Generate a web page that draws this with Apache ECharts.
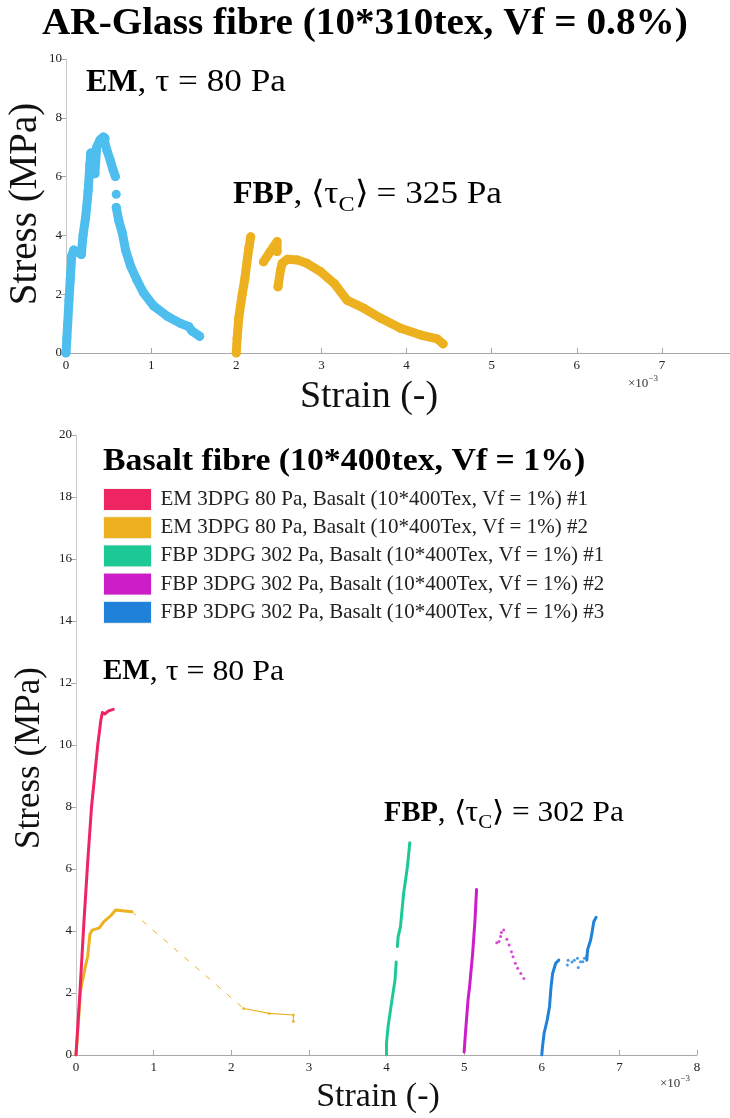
<!DOCTYPE html>
<html><head><meta charset="utf-8">
<script src="https://cdn.jsdelivr.net/npm/echarts@6/dist/echarts.min.js"></script>
<style>html,body{margin:0;padding:0;background:#fff}#c{width:730px;height:1118px}</style>
</head><body><div id="c"></div>
<script>
// ---------- DATA (strain in 1e-3, stress in MPa) ----------
var xTicksTop = [0,1,2,3,4,5,6,7];
var yTicksTop = [0,2,4,6,8,10];
var xTicksBottom = [0,1,2,3,4,5,6,7,8];
var yTicksBottom = [0,2,4,6,8,10,12,14,16,18,20];

// AR-Glass EM (blue)
var glassEM_a = [[0,0],[0.01,0.5],[0.02,1.0],[0.035,1.8],[0.05,2.5],[0.067,3.3],[0.09,3.5],[0.13,3.45],[0.18,3.35],[0.2,4.0],[0.23,4.6],[0.26,5.5],[0.28,6.4],[0.29,6.8],[0.32,6.5],[0.34,6.1],[0.36,7.0],[0.4,7.25],[0.44,7.35],[0.46,7.3],[0.48,6.9],[0.52,6.55],[0.55,6.25],[0.58,6.0]];
var glassEM_b = [[0.59,5.4]];
var glassEM_c = [[0.59,4.95],[0.62,4.5],[0.66,4.1],[0.7,3.5],[0.76,2.95],[0.83,2.5],[0.91,2.05],[1.03,1.6],[1.19,1.25],[1.35,1.0],[1.44,0.9],[1.48,0.75],[1.57,0.57]];
// AR-Glass FBP (orange)
var glassFBP_a = [[2.0,0],[2.01,0.5],[2.03,1.2],[2.07,2.0],[2.1,2.5],[2.13,3.2],[2.15,3.6],[2.17,3.95]];
var glassFBP_b = [[2.32,3.1],[2.4,3.45],[2.48,3.79],[2.48,3.45]];
var glassFBP_c = [[2.49,2.25],[2.52,2.82],[2.54,3.05],[2.6,3.19],[2.72,3.16],[2.83,3.05],[2.99,2.77],[3.15,2.37],[3.3,1.8],[3.5,1.52],[3.7,1.18],[3.93,0.84],[4.17,0.61],[4.36,0.48],[4.43,0.31]];

// Basalt
var names = ['EM 3DPG 80 Pa, Basalt (10*400Tex, Vf = 1%) #1','EM 3DPG 80 Pa, Basalt (10*400Tex, Vf = 1%) #2','FBP 3DPG 302 Pa, Basalt (10*400Tex, Vf = 1%) #1','FBP 3DPG 302 Pa, Basalt (10*400Tex, Vf = 1%) #2','FBP 3DPG 302 Pa, Basalt (10*400Tex, Vf = 1%) #3'];
var emB1 = [[0,0],[0.05,2.0],[0.1,4.2],[0.15,6.2],[0.2,8.0],[0.24,9.0],[0.28,10.0],[0.32,10.8],[0.34,11.05],[0.37,11.0],[0.42,11.1],[0.48,11.15]];
var emB2 = [[0,0],[0.06,2.1],[0.12,2.85],[0.15,3.17],[0.18,3.9],[0.21,4.03],[0.3,4.1],[0.36,4.3],[0.45,4.5],[0.51,4.68],[0.6,4.65],[0.72,4.62]];
var emB2tail = [[0.72,4.62],[2.16,1.5]];
var emB2end = [[2.16,1.5],[2.49,1.34],[2.8,1.29],[2.8,1.08]];
var fbpB1 = [[4.0,0],[4.0,0.38],[4.02,0.91],[4.07,1.77],[4.11,2.42],[4.125,3.0],null,[4.14,3.5],[4.15,3.82],[4.18,4.14],[4.22,5.2],[4.27,6.08],[4.3,6.85]];
var fbpB2 = [[5.0,0.1],[5.02,0.8],[5.05,1.77],[5.07,2.2],[5.11,3.28],[5.14,4.35],[5.16,5.34]];
var fbpB2pts = [[5.42,3.62],[5.45,3.66],[5.47,3.82],[5.48,3.95],[5.51,4.03],[5.55,3.73],[5.58,3.55],[5.61,3.33],[5.63,3.17],[5.66,2.96],[5.69,2.8],[5.73,2.63],[5.77,2.47]];
var fbpB3 = [[6.0,0],[6.01,0.27],[6.03,0.7],[6.07,1.13],[6.1,1.56],[6.12,2.2],[6.14,2.63],[6.18,2.96],[6.22,3.06]];
var fbpB3pts = [[6.33,2.9],[6.34,3.06],[6.39,3.0],[6.42,3.06],[6.46,3.12],[6.47,2.82],[6.5,3.01],[6.53,3.01],[6.55,3.12],[6.58,3.19]];
var fbpB3b = [[6.58,3.06],[6.59,3.39],[6.63,3.71],[6.65,3.98],[6.67,4.3],[6.7,4.44]];

var cBlueTop = '#4DBEEE', cOrange = '#EDB120';
var cPink = '#EF2463', cTeal = '#1DC897', cMag = '#CC1DC8', cBlue = '#1F82D8';

var serif = 'Liberation Serif';
var mctx = document.createElement('canvas').getContext('2d');
function measure(t, size, weight) {
  mctx.font = (weight || 'normal') + ' ' + size + 'px "' + serif + '"';
  return mctx.measureText(t).width;
}
// items: {t, size, w, sx, dy}
function textLine(x, y, items, color) {
  var out = [], cx = x;
  items.forEach(function (it) {
    var sx = it.sx || 1;
    out.push({type:'text', x:cx, y:y + (it.dy || 0), scaleX:sx, silent:true, z:100,
      style:{text:it.t, fontFamily:serif, fontSize:it.size, fontWeight:it.w || 'normal', fill:color || '#000',
        align:'left', verticalAlign:'middle'}});
    cx += measure(it.t, it.size, it.w) * sx;
  });
  return out;
}
function annEM(x, y, s) {
  return textLine(x, y, [{t:'EM', size:s, w:'bold'}, {t:', τ = 80 Pa', size:s, sx:1.1}]);
}
function annFBP(x, y, s, val) {
  return textLine(x, y, [{t:'FBP', size:s, w:'bold'}, {t:', ⟨τ', size:s, sx:1.1},
    {t:'C', size:Math.round(s*0.68), sx:1.1, dy:s*0.32}, {t:'⟩ = ' + val + ' Pa', size:s, sx:1.1}]);
}
function expo(x, y) {
  return textLine(x, y, [{t:'×10', size:13}, {t:'−3', size:9, dy:-5}], '#333');
}

function axisX(idx, max) {
  return {gridIndex: idx, type:'value', min:0, max:max, interval:1,
    axisLine:{show:true, lineStyle:{color:'#a8a8a8', width:1}},
    axisTick:{show:true, inside:true, length:5, lineStyle:{color:'#a8a8a8'}},
    axisLabel:{color:'#222', fontFamily:serif, fontSize:13, margin:6,
      formatter:function(v){ var t = idx === 0 ? xTicksTop : xTicksBottom; return t.indexOf(v) >= 0 ? String(v) : ''; }},
    splitLine:{show:false}};
}
function axisY(idx, max, interval) {
  return {gridIndex: idx, type:'value', min:0, max:max, interval:interval,
    axisLine:{show:true, lineStyle:{color:'#c8c8c8', width:1}},
    axisTick:{show:true, inside:false, length:5, lineStyle:{color:'#a8a8a8'}},
    axisLabel:{color:'#222', fontFamily:serif, fontSize:13, margin:4,
      formatter:function(v){ var t = idx === 0 ? yTicksTop : yTicksBottom; return t.indexOf(v) >= 0 ? String(v) : ''; }},
    splitLine:{show:false}};
}
function thick(name, data, color) {
  return {type:'line', name:name, xAxisIndex:0, yAxisIndex:0, data:data, color:color,
    showSymbol:true, symbol:'circle', symbolSize:9, lineStyle:{width:9, color:color, cap:'round', join:'round'},
    itemStyle:{color:color}, animation:false, silent:true};
}
function thin(name, data, color, w, dashed) {
  return {type:'line', name:name, xAxisIndex:1, yAxisIndex:1, data:data, color:color, connectNulls:false,
    showSymbol:false, lineStyle:{width:w, color:color, type: dashed ? [5,9] : 'solid', cap:'round', join:'round'},
    itemStyle:{color:color}, animation:false, silent:true};
}
function dots(name, data, color) {
  return {type:'scatter', name:name, xAxisIndex:1, yAxisIndex:1, data:data, symbolSize:3, color:color,
    itemStyle:{color:color}, animation:false, silent:true};
}

var graphics = [];
graphics = graphics.concat(textLine(42, 24, [{t:'AR-Glass fibre (10*310tex, Vf = 0.8%)', size:37, w:'bold', sx:1.06}]));
graphics = graphics.concat(annEM(86, 83, 32));
graphics = graphics.concat(annFBP(233, 195, 32, '325'));
graphics.push({type:'text', x:369, y:397, silent:true, style:{text:'Strain (-)', fontFamily:serif, fontSize:38, fill:'#111', align:'center', verticalAlign:'middle'}});
graphics.push({type:'text', x:26, y:204, rotation:Math.PI/2, silent:true, style:{text:'Stress (MPa)', fontFamily:serif, fontSize:39, fill:'#111', align:'center', verticalAlign:'middle'}});
graphics = graphics.concat(expo(628, 384));
graphics = graphics.concat(textLine(103, 462, [{t:'Basalt fibre (10*400tex, Vf = 1%)', size:31, w:'bold', sx:1.09}]));
graphics = graphics.concat(annEM(103, 672, 29));
graphics = graphics.concat(annFBP(384, 814, 28.5, '302'));
graphics.push({type:'text', x:378, y:1097, silent:true, style:{text:'Strain (-)', fontFamily:serif, fontSize:34, fill:'#111', align:'center', verticalAlign:'middle'}});
graphics.push({type:'text', x:30, y:758, rotation:Math.PI/2, silent:true, style:{text:'Stress (MPa)', fontFamily:serif, fontSize:35, fill:'#111', align:'center', verticalAlign:'middle'}});
graphics = graphics.concat(expo(660, 1084));

var chart = echarts.init(document.getElementById('c'), null, {renderer:'canvas'});
chart.setOption({
  backgroundColor:'#fff',
  animation:false,
  grid:[{left:66, top:59, width:681, height:294, containLabel:false, outerBoundsMode:'none'},
        {left:76, top:435, right:33, bottom:63, containLabel:false, outerBoundsMode:'none'}],
  xAxis:[axisX(0, 8), axisX(1, 8)],
  yAxis:[axisY(0, 10, 2), axisY(1, 20, 2)],
  legend:{data:names, orient:'vertical', left:103, top:488, itemWidth:48, itemHeight:22, itemGap:5.2, icon:'rect',
    padding:0, selectedMode:false,
    textStyle:{fontFamily:serif, fontSize:21, color:'#222', padding:[0,0,0,4]},
    itemStyle:{borderColor:'#f4f4f4', borderWidth:1}},
  series:[
    thick('glassEM', glassEM_a, cBlueTop), thick('glassEM', glassEM_b, cBlueTop), thick('glassEM', glassEM_c, cBlueTop),
    thick('glassFBP', glassFBP_a, cOrange), thick('glassFBP', glassFBP_b, cOrange), thick('glassFBP', glassFBP_c, cOrange),
    thin(names[1], emB2, cOrange, 3), thin(names[1], emB2tail, cOrange, 1, true), thin(names[1], emB2end, cOrange, 1.2),
    dots(names[1], emB2end, cOrange),
    thin(names[0], emB1, cPink, 3),
    thin(names[2], fbpB1, cTeal, 3),
    thin(names[3], fbpB2, cMag, 3), dots(names[3], fbpB2pts, cMag),
    thin(names[4], fbpB3, cBlue, 3), dots(names[4], fbpB3pts, cBlue), thin(names[4], fbpB3b, cBlue, 3)
  ],
  graphic: graphics
});
</script></body></html>
